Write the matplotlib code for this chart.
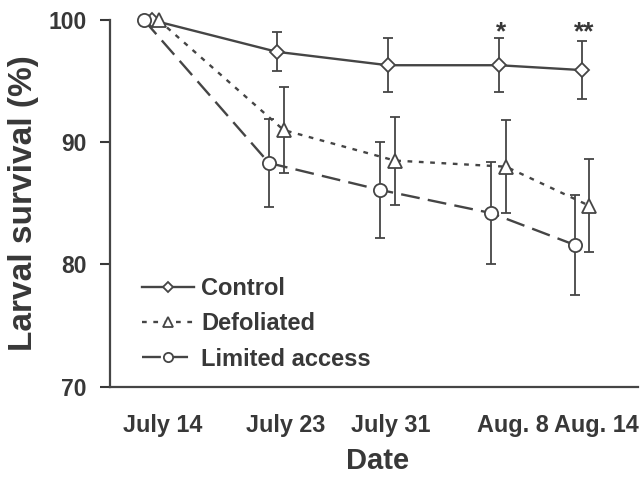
import matplotlib
matplotlib.use('Agg')
import matplotlib.pyplot as plt

# ---- data ----
dates = ['July 14', 'July 23', 'July 31', 'Aug. 8', 'Aug. 14']
days = [0, 9, 17, 25, 31]
control = [100, 97.4, 96.3, 96.3, 95.9]
control_err = [0, 1.6, 2.2, 2.2, 2.35]
defoliated = [100, 91.0, 88.5, 88.0, 84.8]
defoliated_err = [0, 3.5, 3.6, 3.8, 3.8]
limited = [100, 88.3, 86.1, 84.2, 81.6]
limited_err = [0, 3.6, 3.9, 4.2, 4.1]
signif = ['', '', '', '*', '**']
yticks = [70, 80, 90, 100]

# ---- style ----
plt.rcParams['font.family'] = ['Liberation Sans', 'DejaVu Sans']
plt.rcParams['font.weight'] = 'bold'
TXT = '#383838'
LN = '#454545'

fig = plt.figure(figsize=(6.41, 4.97), dpi=100)
ax = fig.add_axes([110/641, 1-386.7/497, 528/641, (386.7-20)/497])

def shift(xs, d):
    return [x + d for x in xs]

series = [
    ('Control', control, control_err, 0.0, 'D', 7.5, '-'),
    ('Defoliated', defoliated, defoliated_err, 0.5, '^', 10, (0, (2.0, 2.8))),
    ('Limited access', limited, limited_err, -0.55, 'o', 9.5, (0, (8, 3.5))),
]

handles = []
for i, (name, vals, errs, dx, mk, ms, ls) in enumerate(series):
    xs = shift(days, dx)
    ax.errorbar(xs[1:], vals[1:], yerr=errs[1:], fmt='none', ecolor=LN,
                elinewidth=1.3, capsize=3.3, capthick=1.3, zorder=2, clip_on=False)
    h, = ax.plot(xs, vals, linestyle=ls, color=LN, lw=1.7, marker=mk, ms=ms,
                 mfc='white', mec=LN, mew=1.3, zorder=3 + i, clip_on=False, label=name)
    handles.append(h)

for x, v, e, s in zip(days, control, control_err, signif):
    if s:
        ax.text(x + 0.15, 99.0, s, ha='center', va='center', fontsize=19,
                color=TXT, fontweight='bold')

ax.set_xlim(-2.99, 35.0)
ax.set_ylim(70, 100)
ax.set_yticks(yticks)
ax.set_yticklabels([str(t) for t in yticks])
# label positions are slightly right of the sampling dates in the original
label_shift_days = [0.78, 0.65, 0.2, 0.97, 1.0]
ax.set_xticks([d + s for d, s in zip(days, label_shift_days)])
ax.set_xticklabels(dates)

ax.tick_params(axis='x', length=0, pad=20, labelsize=16.8, colors=TXT)
ax.tick_params(axis='y', length=7, width=1.5, direction='out', pad=10,
               labelsize=16.5, colors=TXT)
for lab in ax.get_xticklabels() + ax.get_yticklabels():
    lab.set_fontweight('bold')
for sp in ['top', 'right']:
    ax.spines[sp].set_visible(False)
for sp in ['left', 'bottom']:
    ax.spines[sp].set_color(LN)
    ax.spines[sp].set_linewidth(1.6)

ax.set_xlabel('Date', fontsize=21, fontweight='bold', color=TXT, labelpad=7)
ax.xaxis.label.set_x((377.5 - 110) / 528)
fig.text(24/641, 1-203/497, 'Larval survival (%)', rotation=90, ha='center',
         va='center', fontsize=24, fontweight='bold', color=TXT)

leg = ax.legend(handles=handles, loc='upper left',
                bbox_to_anchor=(142/641, 1-277/497), bbox_transform=fig.transFigure,
                frameon=False, fontsize=17, handlelength=2.2, handletextpad=0.3,
                labelspacing=0.52, borderpad=0, borderaxespad=0, markerscale=0.7)
for t in leg.get_texts():
    t.set_color(TXT)
    t.set_fontweight('bold')

fig.savefig('out.png', dpi=100)
